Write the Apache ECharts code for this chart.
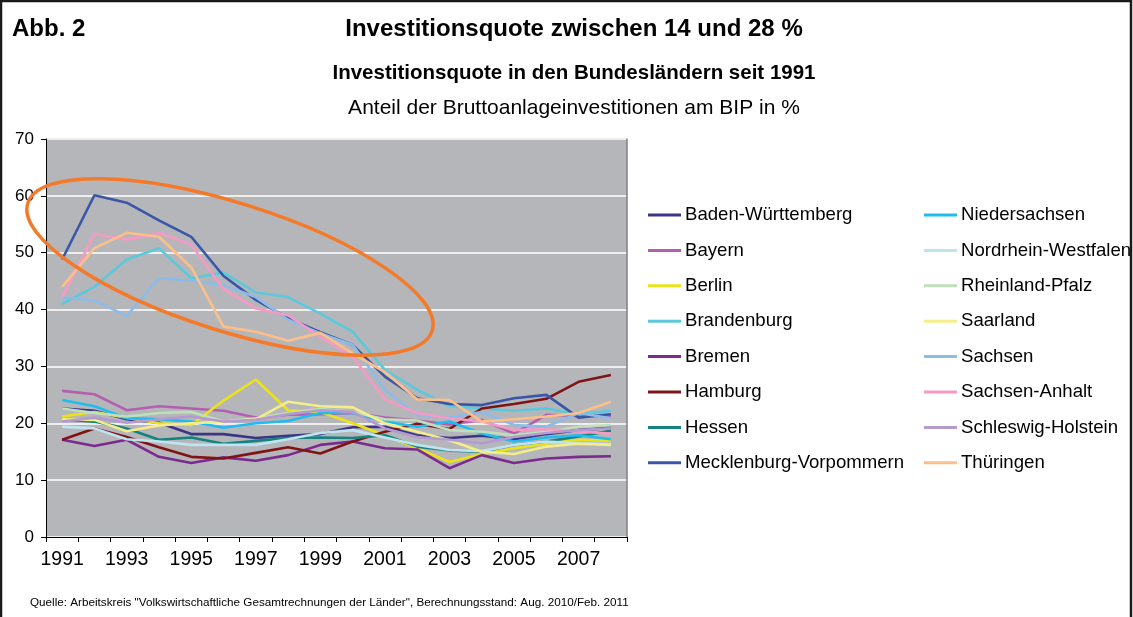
<!DOCTYPE html>
<html>
<head>
<meta charset="utf-8">
<script src="https://cdn.jsdelivr.net/npm/echarts@6/dist/echarts.min.js"></script>
<style>html,body{margin:0;padding:0;background:#fff}#c{width:1133px;height:617px}</style>
</head>
<body>
<div id="c"></div>
<script>
var years = ['1991','1992','1993','1994','1995','1996','1997','1998','1999','2000','2001','2002','2003','2004','2005','2006','2007','2008'];
var yTicks = [0,10,20,30,40,50,60,70];

var badenWuerttemberg = [22.6,22.2,20.7,20.1,18.1,18.1,17.4,17.8,18.1,19.3,19.4,17.9,17.4,17.8,17.2,18.1,18.8,19.2];
var bayern            = [25.7,25.1,22.3,23.0,22.6,22.2,21.0,21.5,21.6,21.8,21.0,20.5,19.8,20.6,18.2,21.5,21.3,21.3];
var berlin            = [21.2,22.0,21.0,20.0,19.7,24.0,27.7,22.3,22.0,20.0,17.9,15.6,13.2,14.6,15.6,16.4,17.1,16.9];
var brandenburg       = [41.0,44.0,48.8,50.8,45.5,46.5,43.0,42.2,39.3,36.1,29.4,25.9,23.0,22.6,22.2,22.6,21.6,22.2];
var bremen            = [17.1,16.0,17.1,14.1,13.0,14.0,13.4,14.4,16.2,16.8,15.6,15.4,12.1,14.4,13.0,13.8,14.1,14.2];
var hamburg           = [17.1,19.1,17.6,15.8,14.1,13.8,14.8,15.8,14.7,16.8,18.5,19.9,19.0,22.6,23.4,24.3,27.3,28.5];
var hessen            = [20.7,20.3,19.1,17.1,17.5,16.4,16.9,17.4,17.5,17.4,17.9,15.9,15.2,15.0,16.2,16.8,17.7,18.7];
var mecklenburgVorp   = [48.8,60.1,58.8,55.7,52.8,45.9,41.7,38.5,36.0,33.8,28.2,24.4,23.4,23.2,24.4,25.0,21.0,21.6];
var niedersachsen     = [24.1,23.0,20.9,20.7,20.3,19.2,20.0,20.4,21.8,21.8,20.3,19.4,20.3,18.2,16.8,17.5,17.9,17.2];
var nordrheinWestf    = [19.4,19.1,17.2,16.8,16.2,16.2,16.2,17.2,18.3,18.8,17.5,16.2,15.3,15.1,16.2,16.8,16.5,16.3];
var rheinlandPfalz    = [22.6,21.8,21.2,21.8,22.0,20.3,20.9,21.8,22.5,22.0,20.7,20.5,18.8,18.5,17.9,18.5,19.4,19.7];
var saarland          = [20.7,20.6,18.6,19.6,20.0,20.3,20.7,23.8,23.0,22.8,20.0,18.5,17.0,15.0,14.6,15.9,16.4,16.2];
var sachsen           = [42.1,41.6,38.9,45.5,45.1,44.3,42.2,38.2,35.8,33.8,25.9,21.5,21.0,22.0,19.7,19.4,21.8,20.9];
var sachsenAnhalt     = [42.1,53.3,52.3,53.5,51.4,43.6,40.2,39.0,35.2,31.7,24.2,21.8,20.9,20.3,18.8,19.0,18.5,18.2];
var schleswigHolstein = [20.3,21.0,20.1,20.7,21.2,20.3,20.6,21.6,22.3,22.0,19.1,17.6,17.1,16.5,17.6,18.3,18.8,19.1];
var thueringen        = [44.0,50.8,53.5,52.8,47.4,37.0,36.1,34.5,35.9,32.3,29.0,24.2,24.1,20.3,20.7,21.2,21.8,23.8];

var names = ['Baden-Württemberg','Bayern','Berlin','Brandenburg','Bremen','Hamburg','Hessen','Mecklenburg-Vorpommern',
             'Niedersachsen','Nordrhein-Westfalen','Rheinland-Pfalz','Saarland','Sachsen','Sachsen-Anhalt','Schleswig-Holstein','Thüringen'];
var values = [badenWuerttemberg,bayern,berlin,brandenburg,bremen,hamburg,hessen,mecklenburgVorp,
              niedersachsen,nordrheinWestf,rheinlandPfalz,saarland,sachsen,sachsenAnhalt,schleswigHolstein,thueringen];
var colors = ['#3b3586','#b35fb0','#ece21c','#5bc8dc','#7b2a8e','#7f1416','#12837f','#3a56a8',
              '#1fbcf0','#bfe3ef','#bfdfbb','#f3ee8a','#8dbbe8','#f59ac4','#b59ad0','#fcbf8a'];

// annotation ellipse anchor (data coords) around the eastern states
var ellipseAnchorYears = ['1996','1997'];
var ellipseAnchorFrac = 0.2;
var ellipseAnchorValue = 47.5;

var font = 'Liberation Sans, Arial, sans-serif';
var chart = echarts.init(document.getElementById('c'));

var series = names.map(function(n,i){
  return {name:n,type:'line',data:values[i],symbol:'none',smooth:false,
    lineStyle:{width:2.6,color:colors[i]},itemStyle:{color:colors[i]},z:2};
});

var legendCommon = {orient:'vertical',icon:'rect',itemWidth:33,itemHeight:3,itemGap:15.4,
  textStyle:{fontFamily:font,fontSize:18.6,color:'#000',lineHeight:20,padding:[0,0,0,-1]},
  selectedMode:false, padding:0};

chart.setOption({
  animation:false,
  backgroundColor:'#fff',
  color:colors,
  grid:{left:46,right:506,top:139,bottom:80,show:true,backgroundColor:'#b5b6ba',borderWidth:0},
  legend:[
    Object.assign({left:648,top:205,data:names.slice(0,8)},legendCommon),
    Object.assign({left:924,top:205,data:names.slice(8)},legendCommon)
  ],
  xAxis:{type:'category',data:years,boundaryGap:true,
    axisLine:{lineStyle:{color:'#000',width:1}},
    axisTick:{show:true,interval:0,length:5,lineStyle:{color:'#000'}},
    axisLabel:{interval:1,fontFamily:font,fontSize:19.5,color:'#000',margin:13}},
  yAxis:[{type:'value',min:yTicks[0],max:yTicks[yTicks.length-1],interval:10,
    axisLine:{show:true,lineStyle:{color:'#000',width:1}},
    axisTick:{show:true,length:5,lineStyle:{color:'#000'}},
    splitLine:{show:true,lineStyle:{color:'#eeeeee',width:2}},
    axisLabel:{fontFamily:font,fontSize:17,color:'#000',margin:12}},
    {type:'value',min:0,max:70,interval:10,position:'right',
    axisLine:{show:true,lineStyle:{color:'#808080',width:1.5}},axisTick:{show:false},axisLabel:{show:false},splitLine:{show:false}}],
  series:series
});

function px(y,v){return chart.convertToPixel({gridIndex:0},[y,v]);}
var pA = px(ellipseAnchorYears[0],ellipseAnchorValue), pB = px(ellipseAnchorYears[1],ellipseAnchorValue);
var cx = pA[0]+(pB[0]-pA[0])*ellipseAnchorFrac, cy = pA[1];

chart.setOption({graphic:[
  {type:'ellipse',shape:{cx:0,cy:0,rx:212,ry:64},x:cx,y:cy,rotation:-17.5*Math.PI/180,
   style:{fill:'none',stroke:'#f47a2a',lineWidth:3.5},z:10},
  {type:'rect',shape:{x:1,y:1,width:1130,height:640},style:{fill:'none',stroke:'#1a1a1a',lineWidth:2.5},z:20},
  {type:'text',x:12,y:29,style:{text:'Abb. 2',font:'bold 24px '+font,fill:'#000',textVerticalAlign:'middle'}},
  {type:'text',x:574,y:29,style:{text:'Investitionsquote zwischen 14 und 28 %',font:'bold 24px '+font,fill:'#000',textAlign:'center',textVerticalAlign:'middle'}},
  {type:'text',x:574,y:73,style:{text:'Investitionsquote in den Bundesländern seit 1991',font:'bold 20.5px '+font,fill:'#000',textAlign:'center',textVerticalAlign:'middle'}},
  {type:'text',x:574,y:108,style:{text:'Anteil der Bruttoanlageinvestitionen am BIP in %',font:'21px '+font,fill:'#000',textAlign:'center',textVerticalAlign:'middle'}},
  {type:'text',x:30,y:603,style:{text:'Quelle: Arbeitskreis "Volkswirtschaftliche Gesamtrechnungen der Länder", Berechnungsstand: Aug. 2010/Feb. 2011',font:'11.7px '+font,fill:'#000',textVerticalAlign:'middle'}}
]});
</script>
</body>
</html>
